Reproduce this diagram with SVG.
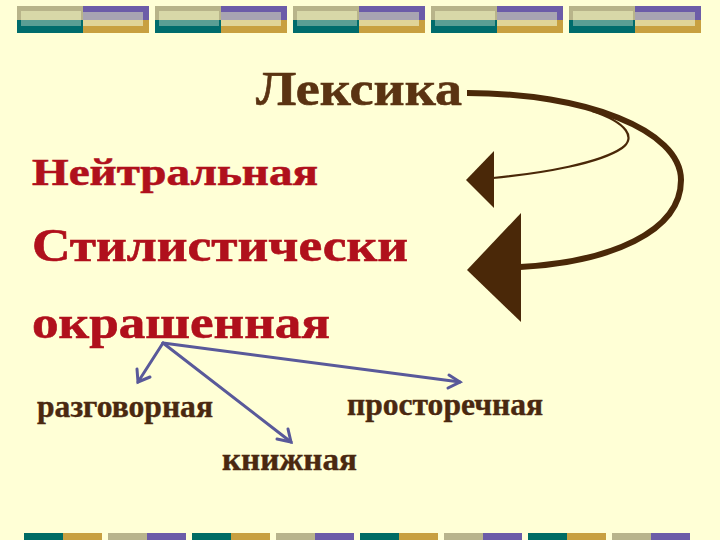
<svg xmlns="http://www.w3.org/2000/svg" xmlns:xlink="http://www.w3.org/1999/xlink" width="720" height="540" viewBox="0 0 720 540">
<style>
.lex{font-family:"Liberation Serif","Times New Roman",serif;font-weight:bold;fill:#5A3312;stroke:#5A3312;stroke-width:0.6}
.red{font-family:"Liberation Serif","Times New Roman",serif;font-weight:bold;fill:#B0101C;stroke:#B0101C;stroke-width:0.6}
.sub{font-family:"Liberation Serif","Times New Roman",serif;font-weight:bold;fill:#4A2810;stroke:#4A2810;stroke-width:0.4;font-size:32px}
.blue{stroke:#59599A;stroke-width:3;fill:none;stroke-linecap:round}
.brown{stroke:#4A2808;fill:none}
</style>
<defs>
<g id="tb">
<rect x="0" y="0" width="66" height="14" fill="#B8B48A"/>
<rect x="4" y="5" width="60" height="9" fill="#D8D8A8"/>
<rect x="0" y="14" width="66" height="13" fill="#006C6C"/>
<rect x="4" y="14" width="60" height="6" fill="#5A9E94"/>
<rect x="66" y="0" width="66" height="14" fill="#6C5CA8"/>
<rect x="66" y="6" width="60" height="8" fill="#A8A4B2"/>
<rect x="66" y="14" width="66" height="13" fill="#C8A040"/>
<rect x="66" y="14" width="60" height="6" fill="#E0D498"/>
</g>
<g id="bb">
<rect x="0" y="0" width="39" height="7" fill="#006C64"/>
<rect x="39" y="0" width="39" height="7" fill="#C8A040"/>
<rect x="84" y="0" width="39" height="7" fill="#B8B48C"/>
<rect x="123" y="0" width="39" height="7" fill="#6C5CA8"/>
</g>
</defs>
<rect width="720" height="540" fill="#FFFFD6"/>
<g id="border-top">
<use xlink:href="#tb" x="17" y="6"/>
<use xlink:href="#tb" x="155" y="6"/>
<use xlink:href="#tb" x="293" y="6"/>
<use xlink:href="#tb" x="431" y="6"/>
<use xlink:href="#tb" x="569" y="6"/>
</g>
<g id="border-bottom">
<use xlink:href="#bb" x="24" y="533"/>
<use xlink:href="#bb" x="192" y="533"/>
<use xlink:href="#bb" x="360" y="533"/>
<use xlink:href="#bb" x="528" y="533"/>
</g>
<g id="n-leksika"><text class="lex" x="256" y="105" font-size="48" textLength="206" lengthAdjust="spacingAndGlyphs">Лексика</text></g>
<g id="n-neutral"><text class="red" x="32" y="185" font-size="38" textLength="286" lengthAdjust="spacingAndGlyphs">Нейтральная</text></g>
<g id="n-stylistic"><text class="red" x="32" y="261" font-size="46" textLength="376" lengthAdjust="spacingAndGlyphs">Стилистически</text><text class="red" x="32" y="338" font-size="46" textLength="298" lengthAdjust="spacingAndGlyphs">окрашенная</text></g>
<g id="n-razg"><text class="sub" x="37" y="417" textLength="176" lengthAdjust="spacingAndGlyphs">разговорная</text></g>
<g id="n-prost"><text class="sub" x="347" y="415" textLength="196" lengthAdjust="spacingAndGlyphs">просторечная</text></g>
<g id="n-knizh"><text class="sub" x="222" y="470" textLength="135" lengthAdjust="spacingAndGlyphs">книжная</text></g>
<g id="connectors">
<path class="brown" stroke-width="6" d="M467,93 C585,93 681,130 681,180 C681,232 610,262 520,267"/>
<path class="brown" stroke-width="2.2" d="M592,111 C628,123 636,138 622,148 C600,163 545,173 493,178"/>
<polygon fill="#4A2808" points="466,180 494,151 494,208"/>
<polygon fill="#4A2808" points="467,270 521,213 521,322"/>
<line class="blue" x1="163" y1="343" x2="138" y2="382"/>
<polyline class="blue" points="137,369 138,382 150,377"/>
<line class="blue" x1="163" y1="343" x2="291" y2="442"/>
<polyline class="blue" points="277,439 291,442 288,429"/>
<line class="blue" x1="163" y1="343" x2="460" y2="382"/>
<polyline class="blue" points="449,375 460,382 448,388"/>
</g>
</svg>
